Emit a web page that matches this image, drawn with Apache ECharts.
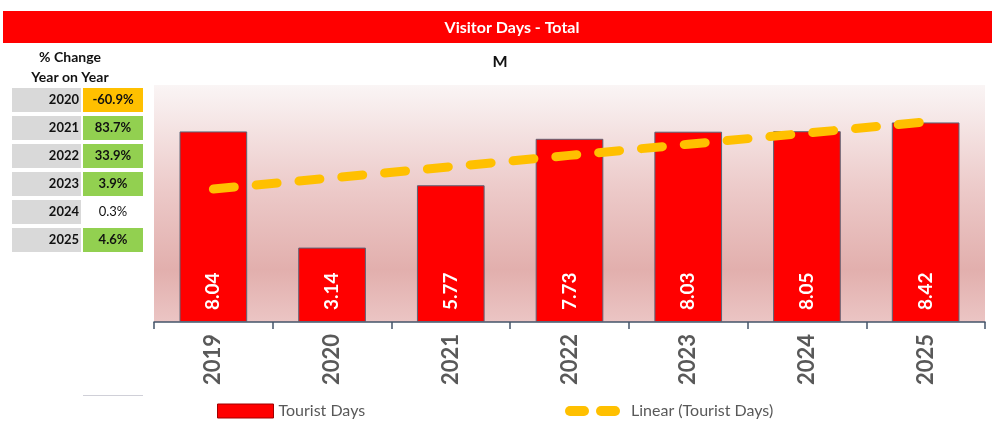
<!DOCTYPE html>
<html><head><meta charset="utf-8">
<script src="https://cdn.jsdelivr.net/npm/echarts@6/dist/echarts.min.js"></script>
<style>html,body{margin:0;padding:0;background:#fff}#c{width:992px;height:430px}</style>
</head><body><div id="c"></div>
<script>
var categories = ['2019','2020','2021','2022','2023','2024','2025'];
var touristDays = [8.04, 3.14, 5.77, 7.73, 8.03, 8.05, 8.42];
var trendValues = [5.61, 6.08, 6.55, 7.03, 7.50, 7.97, 8.44];
var changeYears = ['2020','2021','2022','2023','2024','2025'];
var changeValues = [-60.9, 83.7, 33.9, 3.9, 0.3, 4.6];

var FONT = 'Lato, "Open Sans", sans-serif';
var chart = echarts.init(document.getElementById('c'), null, {renderer:'canvas'});

var graphics = [
  {type:'rect', shape:{x:3,y:11,width:989,height:32}, style:{fill:'#ff0000'}},
  {type:'text', x:512, y:28, style:{text:'Visitor Days - Total', fill:'#fff', font:'bold 16px '+FONT, textAlign:'center', textVerticalAlign:'middle'}},
  {type:'text', x:500, y:62, style:{text:'M', fill:'#111', font:'bold 16px '+FONT, textAlign:'center', textVerticalAlign:'middle'}},
  {type:'text', x:70, y:57, style:{text:'% Change', fill:'#111', font:'bold 14px '+FONT, textAlign:'center', textVerticalAlign:'middle'}},
  {type:'text', x:70, y:77, style:{text:'Year on Year', fill:'#111', font:'bold 14px '+FONT, textAlign:'center', textVerticalAlign:'middle'}},
  {type:'rect', shape:{x:83,y:395,width:60,height:1}, style:{fill:'#d0d0d8'}},
  // legend entry for the trend line
  {type:'rect', shape:{x:565,y:406,width:24,height:10,r:5}, style:{fill:'#ffc000'}},
  {type:'rect', shape:{x:596,y:406,width:24,height:10,r:5}, style:{fill:'#ffc000'}},
  {type:'text', x:631, y:411, style:{text:'Linear (Tourist Days)', fill:'#595959', font:'16px '+FONT, textAlign:'left', textVerticalAlign:'middle'}}
];
changeYears.forEach(function(y, i){
  var top = 88 + i*28;
  var v = changeValues[i];
  var fill = v < 0 ? '#ffc000' : (Math.abs(v) >= 1 ? '#92d050' : null);
  graphics.push({type:'rect', shape:{x:12,y:top,width:69,height:24}, style:{fill:'#d9d9d9'}});
  graphics.push({type:'text', x:79, y:top+12, style:{text:y, fill:'#111', font:'bold 13px '+FONT, textAlign:'right', textVerticalAlign:'middle'}});
  if (fill) graphics.push({type:'rect', shape:{x:83,y:top,width:60,height:24}, style:{fill:fill}});
  graphics.push({type:'text', x:113, y:top+12, style:{text:v.toFixed(1)+'%', fill:'#111', font:(fill?'bold ':'')+'13px '+FONT, textAlign:'center', textVerticalAlign:'middle'}});
});

chart.setOption({
  animation:false,
  textStyle:{fontFamily:FONT},
  graphic:graphics,
  grid:{left:154, right:7, top:85, bottom:108, show:true, borderWidth:0,
    backgroundColor:{type:'linear', x:0,y:0,x2:0,y2:1, colorStops:[
      {offset:0,color:'#faf5f5'},{offset:0.45,color:'#ecc9c8'},{offset:0.78,color:'#e2afad'},{offset:1,color:'#ebc5c4'}]}},
  legend:{data:['Tourist Days'], left:212, top:398, icon:'rect', itemWidth:56, itemHeight:14, itemGap:6,
      itemStyle:{borderColor:'#a00000', borderWidth:1},
      textStyle:{fontSize:16, color:'#595959', fontFamily:FONT}},
  xAxis:{type:'category', data:categories,
    axisLine:{lineStyle:{color:'#44546a', width:1.5}},
    axisTick:{show:true, length:7, lineStyle:{color:'#44546a', width:1.5}},
    axisLabel:{rotate:90, fontSize:22, fontWeight:'bold', color:'#595959', margin:12, fontFamily:FONT}},
  yAxis:{type:'value', min:0, max:10, show:false, splitLine:{show:false}},
  series:[
    {name:'Tourist Days', type:'bar', data:touristDays, barWidth:'57%',
      itemStyle:{color:'#ff0000', borderColor:'#5b6577', borderWidth:1},
      label:{show:true, position:'insideBottom', rotate:90, align:'left', verticalAlign:'middle', distance:12,
        color:'#fff', fontSize:19, fontWeight:'bold', fontFamily:FONT,
        formatter:function(p){return p.value.toFixed(2);}}},
    {name:'Linear (Tourist Days)', type:'line', data:trendValues, symbol:'none', z:5,
      itemStyle:{color:'#ffc000'},
      lineStyle:{color:'#ffc000', width:9, type:[21,22], cap:'round'}}
  ]
});
</script></body></html>
